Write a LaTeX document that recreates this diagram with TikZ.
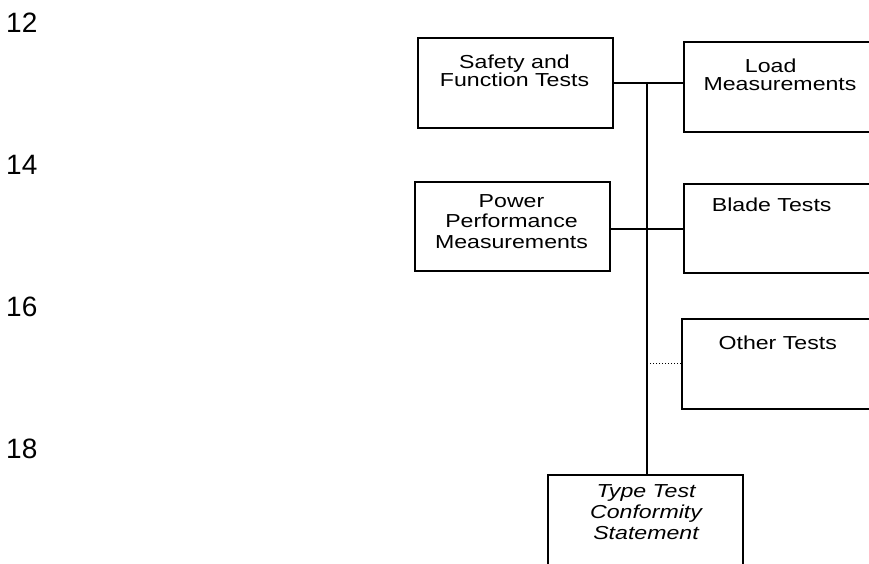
\documentclass[tikz,border=0pt]{standalone}
\usepackage{fontspec}
\setmainfont{Liberation Sans}
\newfontfamily\boxfont[FakeStretch=1.23]{Liberation Sans}
\newfontfamily\numfont{Liberation Sans}
\begin{document}
\begin{tikzpicture}[x=1pt,y=-1pt,
  tbox/.style={draw, line width=1.8pt, inner sep=0pt, anchor=north west, minimum width=195pt},
  conn/.style={line width=1.6pt},
  dotconn/.style={line width=1pt, dotted},
  lbl/.style={inner sep=0pt, anchor=north, align=center, font=\boxfont\fontsize{18.8}{#1}\selectfont},
  lbl/.default=20.4,
  ilbl/.style={lbl=#1, font=\boxfont\itshape\fontsize{18.8}{#1}\selectfont},
  num/.style={inner sep=0pt, anchor=base west, font=\numfont\fontsize{28}{30}\selectfont}
]
\useasboundingbox (0,0) rectangle (869,564);
\clip (0,0) rectangle (869,564);
% numbers
\node[num] (n12) at (6,32.3) {12};
\node[num] (n14) at (6,174.3) {14};
\node[num] (n16) at (6,316.3) {16};
\node[num] (n18) at (6,458.3) {18};
% boxes
\node[tbox, minimum height=90pt] (sft) at (417,37) {};
\node[tbox, minimum height=90pt] (load) at (683,41) {};
\node[tbox, minimum height=89pt] (ppm) at (414,181) {};
\node[tbox, minimum height=89pt] (blade) at (683,183) {};
\node[tbox, minimum height=90pt] (other) at (681,318) {};
\node[tbox, minimum height=130pt] (ttc) at (547,474) {};
% texts
\node[lbl=18.5] (tsft) at (514.5,54.5) {Safety and\\Function Tests};
\node[lbl=18.4] (tload) at (780,58.3) {Load\hspace*{18.6pt}\\Measurements};
\node[lbl=20.4] (tppm) at (511.5,194.3) {Power\\Performance\\Measurements};
\node[lbl] (tblade) at (771.7,198) {Blade Tests};
\node[lbl] (tother) at (777.7,336) {Other Tests};
\node[ilbl=21] (tttc) at (646,484) {Type Test\\Conformity\\Statement};
% connectors
\coordinate (vx) at (647,82);
\coordinate (bw) at ([yshift=-0.5pt]blade.west);
\draw[conn] (sft.east) -- (sft.east -| load.west);
\draw[conn] (bw) -- (bw -| ppm.east);
\draw[conn] (vx) -- (vx |- ttc.north);
\draw[dotconn] (other.west) -- (other.west -| vx);
\end{tikzpicture}
\end{document}
